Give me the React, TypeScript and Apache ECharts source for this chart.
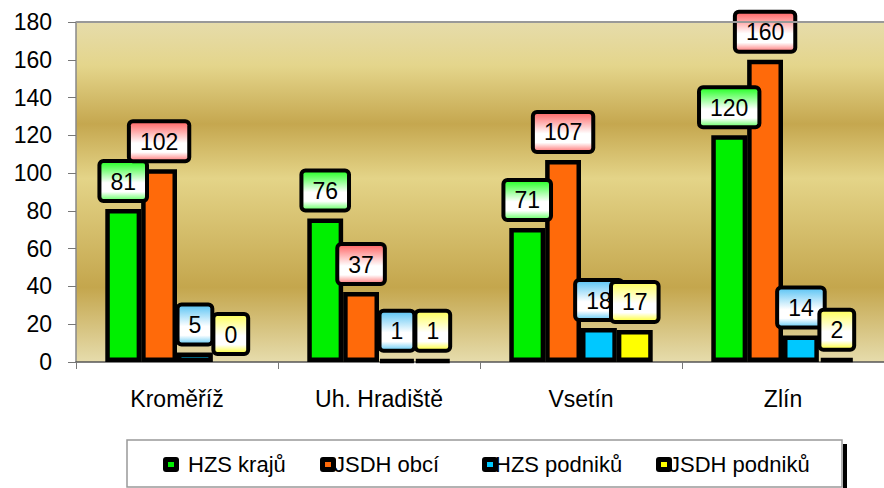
import React, { useEffect, useRef } from 'react';
import * as echarts from 'echarts';

const categories = ['Kroměříž', 'Uh. Hradiště', 'Vsetín', 'Zlín'];
const seriesNames = ['HZS krajů', 'JSDH obcí', 'HZS podniků', 'JSDH podniků'];
const hzsKraju = [81, 76, 71, 120];
const jsdhObci = [102, 37, 107, 160];
const hzsPodniku = [5, 1, 18, 14];
const jsdhPodniku = [0, 1, 17, 2];
const yMin = 0;
const yMax = 180;
const yInterval = 20;

const barColors = ['#00f000', '#ff6a0a', '#00c8ff', '#ffff00'];
const labelTop = ['#33ff33', '#ff6f6f', '#66c8f5', '#ffff66'];
const labelBottom = ['#7dff7d', '#ff8f8f', '#7fd4f7', '#ffff55'];
const legendIconX = [163, 320, 482, 656];
const legendTextX = [188, 334, 495, 669];

const FONT = '"Liberation Sans", Arial, sans-serif';

export default function App() {
  const ref = useRef<HTMLDivElement>(null);
  useEffect(() => {
    if (!ref.current) return;
    const chart = echarts.init(ref.current, null, { renderer: 'svg' });
    const allValues = [hzsKraju, jsdhObci, hzsPodniku, jsdhPodniku];
    const series = allValues.map((vals, i) => ({
      name: seriesNames[i],
      type: 'bar',
      barGap: '0%',
      barCategoryGap: '29%',
      data: vals.map((v) =>
        v === 0 ? { value: v, itemStyle: { borderWidth: 0 } } : { value: v }
      ),
      itemStyle: { color: barColors[i], borderColor: '#000', borderWidth: 4.5 },
      label: {
        show: true,
        position: 'top',
        distance: 10,
        fontSize: 23,
        lineHeight: 23,
        fontFamily: FONT,
        color: '#000',
        borderColor: '#000',
        borderWidth: 4,
        borderRadius: 2,
        padding: [7, 9, 6, 9],
        backgroundColor: new echarts.graphic.LinearGradient(0, 0, 0, 1, [
          { offset: 0, color: labelTop[i] },
          { offset: 0.55, color: '#ffffff' },
          { offset: 0.8, color: '#ffffff' },
          { offset: 1, color: labelBottom[i] },
        ]),
      },
    }));
    const legends = seriesNames.map((name, i) => ({
      data: [{ name }],
      left: legendTextX[i] - 5,
      top: 453,
      padding: 0,
      icon: 'none',
      itemWidth: 0,
      itemHeight: 15,
      itemGap: 0,
      textStyle: { fontSize: 22, fontFamily: FONT, color: '#000' },
    }));
    const iconGraphics: any[] = [];
    legendIconX.forEach((x, i) => {
      iconGraphics.push({
        type: 'rect',
        shape: { x, y: 457, width: 16, height: 15, r: 3 },
        style: { fill: '#000' },
        z: 5,
      });
      iconGraphics.push({
        type: 'rect',
        shape: { x: x + 5, y: 462, width: 6, height: 5 },
        style: { fill: barColors[i] },
        z: 6,
      });
    });
    chart.setOption({
      animation: false,
      backgroundColor: '#ffffff',
      grid: {
        left: 76,
        right: -6,
        top: 22,
        bottom: 126,
        show: true,
        borderWidth: 0,
        backgroundColor: new echarts.graphic.LinearGradient(0, 0, 0, 1, [
          { offset: 0, color: '#e6dcab' },
          { offset: 0.13, color: '#e4d58b' },
          { offset: 0.3, color: '#c5a74f' },
          { offset: 0.46, color: '#e4d488' },
          { offset: 0.78, color: '#c4a64d' },
          { offset: 1, color: '#e6dcac' },
        ]),
      },
      xAxis: {
        type: 'category',
        data: categories,
        axisLine: { lineStyle: { color: '#555', width: 1.5 } },
        axisTick: { show: true, length: 7, lineStyle: { color: '#777' } },
        axisLabel: { fontSize: 23, fontFamily: FONT, color: '#000', margin: 25 },
      },
      yAxis: {
        type: 'value',
        min: yMin,
        max: yMax,
        interval: yInterval,
        splitLine: { show: false },
        axisLine: { show: true, lineStyle: { color: '#888', width: 1.5 } },
        axisTick: { show: true, length: 8, lineStyle: { color: '#777' } },
        axisLabel: { fontSize: 23, fontFamily: FONT, color: '#000', margin: 24 },
      },
      legend: legends,
      graphic: [
        {
          type: 'line',
          shape: { x1: 76, y1: 22, x2: 884, y2: 22 },
          style: { stroke: '#999', lineWidth: 2 },
          z: 10,
        },
        {
          type: 'rect',
          shape: { x: 843, y: 444, width: 4, height: 44 },
          style: { fill: '#000' },
          z: -1,
        },
        {
          type: 'rect',
          shape: { x: 127, y: 440, width: 715, height: 47 },
          style: { fill: '#fff', stroke: '#999', lineWidth: 1.5 },
          z: -1,
        },
        ...iconGraphics,
      ],
      series,
    });
    return () => chart.dispose();
  }, []);
  return (
    <div
      ref={ref}
      style={{ position: 'fixed', left: 0, top: 0, width: 884, height: 488 }}
    />
  );
}
